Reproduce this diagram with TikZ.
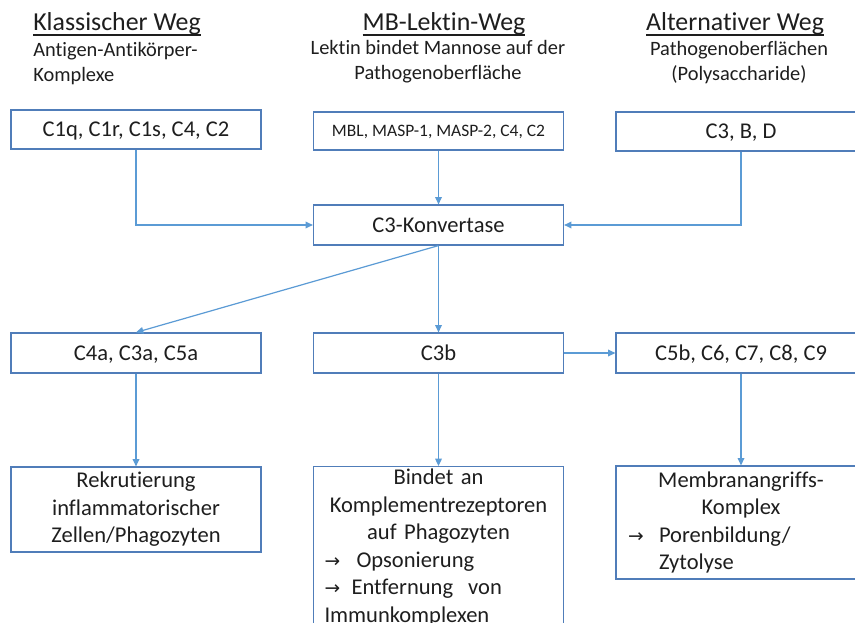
\documentclass[tikz,border=0pt]{standalone}
\usepackage{fontspec}
\setmainfont{Carlito}[Ligatures=NoCommon]
\newfontfamily\arrfont{DejaVu Sans}
\usetikzlibrary{arrows.meta}
\definecolor{boxc}{RGB}{80,125,185}
\definecolor{arrc}{RGB}{91,155,213}
\definecolor{txt}{RGB}{30,30,30}
\newsavebox{\ulbox}
\newcommand{\myul}[1]{\sbox{\ulbox}{#1}\rlap{\rule[-3.6pt]{\wd\ulbox}{1.1pt}}\usebox{\ulbox}}
\newcommand{\rarr}{{\arrfont\fontsize{14}{14}\selectfont →}}
\begin{document}
\begin{tikzpicture}[x=0.75pt,y=-0.75pt,
  box/.style={draw=boxc, line width=0.9pt, fill=white, minimum width=187.5pt, inner sep=0pt, text=txt, font=\fontsize{16.9}{20.6}\selectfont},
  one/.style={text height=10.9pt, text depth=0pt},
  conn/.style={draw=arrc, line width=0.9pt, -{Triangle[length=5.5pt,width=5pt]}},
  ttl/.style={text=txt, inner sep=0pt, font=\fontsize{19.4}{23}\selectfont},
  sub/.style={text=txt, inner sep=0pt, font=\fontsize{15.3}{18.75}\selectfont}
]
\useasboundingbox (0,0) rectangle (855,623);
\clip (0,0) rectangle (855,623);
\fill[white] (0,0) rectangle (855,623);

% titles
\node[ttl, anchor=base west] (t1) at (33,31) {\myul{Klassischer Weg}};
\node[sub, anchor=base west, align=left] (s1) at (33,82) {Antigen-Antikörper-\\Komplexe};
\node[ttl, anchor=base] (t2) at (444,31) {\myul{MB-Lektin-Weg}};
\node[sub, anchor=base, align=center] (s2) at (438,80) {Lektin bindet Mannose auf der\\Pathogenoberfläche};
\node[ttl, anchor=base] (t3) at (735,31) {\myul{Alternativer Weg}};
\node[sub, anchor=base, align=center] (s3) at (739,81) {Pathogenoberflächen\\(Polysaccharide)};

% row 1
\node[box, one, minimum height=29.25pt] (a1) at (136,129.5) {C1q, C1r, C1s, C4, C2};
\node[box, minimum height=28.5pt, text height=8.4pt, text depth=0pt, font=\fontsize{13.1}{16}\selectfont] (a2) at (438.5,131) {MBL, MASP-1, MASP-2, C4, C2};
\node[box, one, minimum height=29.25pt] (a3) at (741,131.5) {C3, B, D};

% convertase
\node[box, one, minimum height=30pt] (k) at (438.5,225) {C3-Konvertase};

% row 2
\node[box, one, minimum height=30pt] (c4a) at (136,353) {C4a, C3a, C5a};
\node[box, one, minimum height=30pt] (c3b) at (438.5,353) {C3b};
\node[box, one, minimum height=30pt] (c5b) at (741,353) {C5b, C6, C7, C8, C9};

% row 3
\node[box, minimum height=63.75pt, text width=180pt, align=center] (d1) at (136,509.5) {Rekrutierung\\inflammatorischer\\Zellen/Phagozyten};
\node[box, anchor=north, inner xsep=8.25pt, inner ysep=2pt, text width=171pt, align=left] (d2) at (438.5,466)
 {\makebox[171pt][c]{Bindet an}\\\makebox[171pt][c]{Komplementrezeptoren}\\\makebox[171pt][c]{auf Phagozyten}\\
  \makebox[24pt][l]{\rarr}Opsonierung\\\makebox[20.25pt][l]{\rarr}Entfernung~ von\\Immunkomplexen};
\node[box, minimum height=84.75pt, inner xsep=9pt, text width=169.5pt, align=left] (d3) at (741,522.5)
 {\makebox[169.5pt][c]{Membranangriffs-}\\\makebox[169.5pt][c]{Komplex}\\
  \makebox[23.25pt][l]{\rarr}Porenbildung/\\\hspace*{23.25pt}Zytolyse};

% connectors
\draw[conn] (a1.south) |- (k.west);
\draw[conn] (a2.south) -- (k.north);
\draw[conn] (a3.south) |- (k.east);
\draw[conn] (k.south) -- (c4a.north);
\draw[conn] (k.south) -- (c3b.north);
\draw[conn] (c3b.east) -- (c5b.west);
\draw[conn] (c4a.south) -- (d1.north);
\draw[conn] (c3b.south) -- (d2.north);
\draw[conn] (c5b.south) -- (d3.north);
\end{tikzpicture}
\end{document}
